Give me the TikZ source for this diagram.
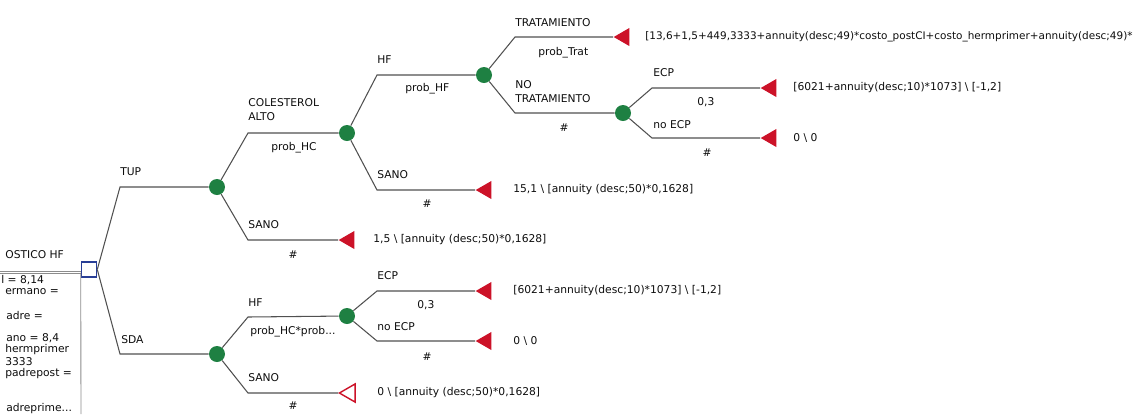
\documentclass[tikz,border=0pt]{standalone}
\usepackage{fontspec}
\setmainfont{DejaVu Sans}
\usepackage{tikz}
\usetikzlibrary{shapes.geometric}
\definecolor{chancegreen}{RGB}{30,128,66}
\definecolor{termred}{RGB}{204,18,40}
\definecolor{decblue}{RGB}{40,62,150}
\definecolor{branchgray}{RGB}{80,80,80}

\begin{document}
\begin{tikzpicture}[
      x=0.02cm, y=-0.02cm,
      every node/.style={font=\fontsize{6.1}{7.9}\selectfont, text=black!95},
      branch/.style={draw=branchgray, line width=0.6pt},
      panel line/.style={draw=black!45, line width=0.5pt},
      chance/.style={circle, fill=chancegreen, minimum size=0.32cm, inner sep=0pt},
      decision/.style={rectangle, draw=decblue, fill=white, line width=0.9pt, minimum size=0.3cm, inner sep=0pt},
      terminal/.style={regular polygon, regular polygon sides=3, shape border rotate=90,
        fill=termred, minimum size=0.42cm, inner sep=0pt, anchor=corner 1},
      open terminal/.style={terminal, fill=white, draw=termred, line width=0.8pt},
      branch label/.style={anchor=west, inner sep=0pt, align=left},
      prob label/.style={anchor=west, inner sep=0pt},
      payoff/.style={anchor=west, inner sep=0pt}
      ]
      \useasboundingbox (0,0) rectangle (1137,414);
      % panel on the left
      \node [branch label] (ptitle) at (5,255) {OSTICO HF};
      \node [branch label] (pv1) at (1,280) {l = 8,14};
      \node [branch label] (pv2) at (5,292) {ermano =};
      \node [branch label] (pv3) at (6,315) {adre =};
      \node [branch label] (pv4) at (6,338) {ano = 8,4};
      \node [branch label] (pv5) at (5,350) {hermprimer};
      \node [branch label] (pv6) at (5,362) {3333};
      \node [branch label] (pv7) at (5,374) {padrepost =};
      \node [branch label] (pv8) at (6,409) {adreprime...};
      % decision node
      \node [decision] (dec) at (89,269.5) {};
      \coordinate (panel) at (0,272.7);
      \coordinate (panelbot) at (81,414);
      \draw [panel line, double=white, double distance=0.6pt] (panel) -- (dec.west |- panel);
      \draw [panel line] (dec.west |- panel) -- (panelbot);
      % chance nodes
      \node [chance] (c1) at (217,187) {};
      \node [chance] (c2) at (217,354) {};
      \node [chance] (c3) at (347,133) {};
      \node [chance] (c4) at (484,75) {};
      \node [chance] (c5) at (623,113) {};
      \node [chance] (c6) at (347,316) {};
      % terminal nodes
      \node [terminal] (tTrat) at (613,37) {};
      \node [terminal] (tEcpA) at (760,88) {};
      \node [terminal] (tNoEcpA) at (760,138) {};
      \node [terminal] (tSanoB) at (475,190) {};
      \node [terminal] (tSanoA) at (338,240) {};
      \node [terminal] (tEcpB) at (475,291) {};
      \node [terminal] (tNoEcpB) at (475,341) {};
      \node [open terminal] (tSanoC) at (338,393) {};
      % bends
      \coordinate (kTUP) at (120,187);
      \coordinate (kSDA) at (120,354);
      \coordinate (kCA) at (248,133);
      \coordinate (kSanoA) at (248,240);
      \coordinate (kHFA) at (377,75);
      \coordinate (kSanoB) at (377,190);
      \coordinate (kTrat) at (515,37);
      \coordinate (kNoTrat) at (515,113);
      \coordinate (kEcpA) at (652,88);
      \coordinate (kNoEcpA) at (652,138);
      \coordinate (kHFB) at (248,317);
      \coordinate (kSanoC) at (248,393);
      \coordinate (kEcpB) at (377,291);
      \coordinate (kNoEcpB) at (377,341);
      % branches
      \draw [branch] (dec.east) -- (kTUP) -- (c1);
      \draw [branch] (dec.east) -- (kSDA) -- (c2);
      \draw [branch] (c1) -- (kCA) -- (c3);
      \draw [branch] (c1) -- (kSanoA) -- (tSanoA);
      \draw [branch] (c3) -- (kHFA) -- (c4);
      \draw [branch] (c3) -- (kSanoB) -- (tSanoB);
      \draw [branch] (c4) -- (kTrat) -- (tTrat);
      \draw [branch] (c4) -- (kNoTrat) -- (c5);
      \draw [branch] (c5) -- (kEcpA) -- (tEcpA);
      \draw [branch] (c5) -- (kNoEcpA) -- (tNoEcpA);
      \draw [branch] (c2) -- (kHFB) -- (c6);
      \draw [branch] (c2) -- (kSanoC) -- (tSanoC);
      \draw [branch] (c6) -- (kEcpB) -- (tEcpB);
      \draw [branch] (c6) -- (kNoEcpB) -- (tNoEcpB);
      % branch names
      \node [branch label] (lTUP) at (120,172) {TUP};
      \node [branch label] (lSDA) at (121,340) {SDA};
      \node [branch label] (lCA) at (248,110) {COLESTEROL\\ALTO};
      \node [branch label] (lSanoA) at (248,225) {SANO};
      \node [branch label] (lHFA) at (377,60) {HF};
      \node [branch label] (lSanoB) at (377,175) {SANO};
      \node [branch label] (lTrat) at (515,23) {TRATAMIENTO};
      \node [branch label] (lNoTrat) at (515,92) {NO\\TRATAMIENTO};
      \node [branch label] (lEcpA) at (653,73) {ECP};
      \node [branch label] (lNoEcpA) at (653,125) {no ECP};
      \node [branch label] (lHFB) at (248,303) {HF};
      \node [branch label] (lSanoC) at (248,378) {SANO};
      \node [branch label] (lEcpB) at (377,276) {ECP};
      \node [branch label] (lNoEcpB) at (377,327) {no ECP};
      % probabilities
      \node [prob label] (pCA) at (271,148) {prob\_HC};
      \node (pSanoA) at (293,255) {\#};
      \node [prob label] (pHFA) at (405,89) {prob\_HF};
      \node (pSanoB) at (427,204) {\#};
      \node [prob label] (pTrat) at (538,53) {prob\_Trat};
      \node (pNoTrat) at (564,128) {\#};
      \node [prob label] (pEcpA) at (697,102) {0,3};
      \node (pNoEcpA) at (707,153) {\#};
      \node [prob label] (pHFB) at (250,332) {prob\_HC*prob...};
      \node (pSanoC) at (293,406) {\#};
      \node [prob label] (pEcpB) at (417,305) {0,3};
      \node (pNoEcpB) at (427,357) {\#};
      % payoffs
      \node [payoff, font=\fontsize{5.95}{7.9}\selectfont] (vTrat) at (645,37) {[13,6+1,5+449,3333+annuity(desc;49)*costo\_postCI+costo\_hermprimer+annuity(desc;49)*};
      \node [payoff] (vEcpA) at (793,88) {[6021+annuity(desc;10)*1073] \textbackslash{} [-1,2]};
      \node [payoff] (vNoEcpA) at (793,138) {0 \textbackslash{} 0};
      \node [payoff] (vSanoB) at (513,190) {15,1 \textbackslash{} [annuity (desc;50)*0,1628]};
      \node [payoff] (vSanoA) at (373,240) {1,5 \textbackslash{} [annuity (desc;50)*0,1628]};
      \node [payoff] (vEcpB) at (513,291) {[6021+annuity(desc;10)*1073] \textbackslash{} [-1,2]};
      \node [payoff] (vNoEcpB) at (513,341) {0 \textbackslash{} 0};
      \node [payoff] (vSanoC) at (377,393) {0 \textbackslash{} [annuity (desc;50)*0,1628]};
    \end{tikzpicture}
\end{document}
